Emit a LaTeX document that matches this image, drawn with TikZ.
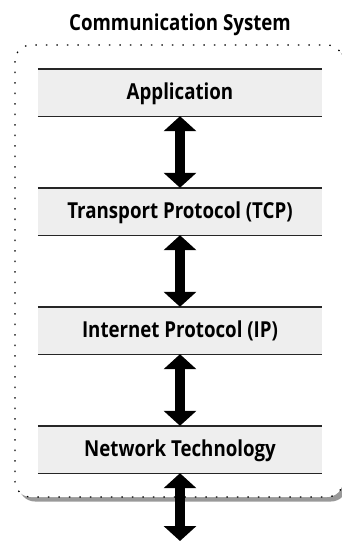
\documentclass[tikz,border=0pt]{standalone}
\usepackage{fontspec}
\setmainfont{Open Sans}[FakeStretch=0.85]
\usetikzlibrary{arrows.meta}
\definecolor{layerfill}{HTML}{EEEEEE}
\definecolor{shadowgray}{HTML}{999999}
\tikzset{
  labelfont/.style={font=\bfseries\fontsize{22}{26}\selectfont},
  layer/.style={rectangle, minimum width=284pt, minimum height=47pt,
    fill=layerfill, inner sep=0pt, labelfont,
    text height=13pt, text depth=0pt},
  layerrule/.style={line width=1.4pt, black!85},
  bigarrow/.style={line width=10.5pt,
    {Triangle[width=32pt,length=15pt]}-{Triangle[width=32pt,length=15pt]}},
  frame/.style={draw, line width=1.2pt, dash pattern=on 1.5pt off 9pt,
    rounded corners=16pt, fill=white},
  shadowbox/.style={fill=shadowgray, rounded corners=16pt},
}
\begin{document}
\begin{tikzpicture}[x=1pt,y=-1pt]
  \useasboundingbox (0,0) rectangle (342,541);

  % title
  \node[labelfont, anchor=base] (title) at (180,30) {Communication System};

  % system frame with drop shadow
  \path[shadowbox] (19,49.5) rectangle (347,501.5);
  \path[frame] (15,45) rectangle (343,497);

  % protocol layers
  \node[layer] (app) at (180,92.5) {Application};
  \node[layer] (tcp) at (180,211.5) {Transport Protocol (TCP)};
  \node[layer] (ip)  at (180,330.5) {Internet Protocol (IP)};
  \node[layer] (net) at (180,449.5) {Network Technology};

  \foreach \n in {app,tcp,ip,net}{
    \draw[layerrule] (\n.north west) -- (\n.north east);
    \draw[layerrule] (\n.south west) -- (\n.south east);
  }

  % links between layers
  \coordinate (wire) at (180,541);
  \draw[bigarrow] (app.south) -- (tcp.north);
  \draw[bigarrow] (tcp.south) -- (ip.north);
  \draw[bigarrow] (ip.south) -- (net.north);
  \draw[bigarrow] (net.south) -- (wire);
\end{tikzpicture}
\end{document}
